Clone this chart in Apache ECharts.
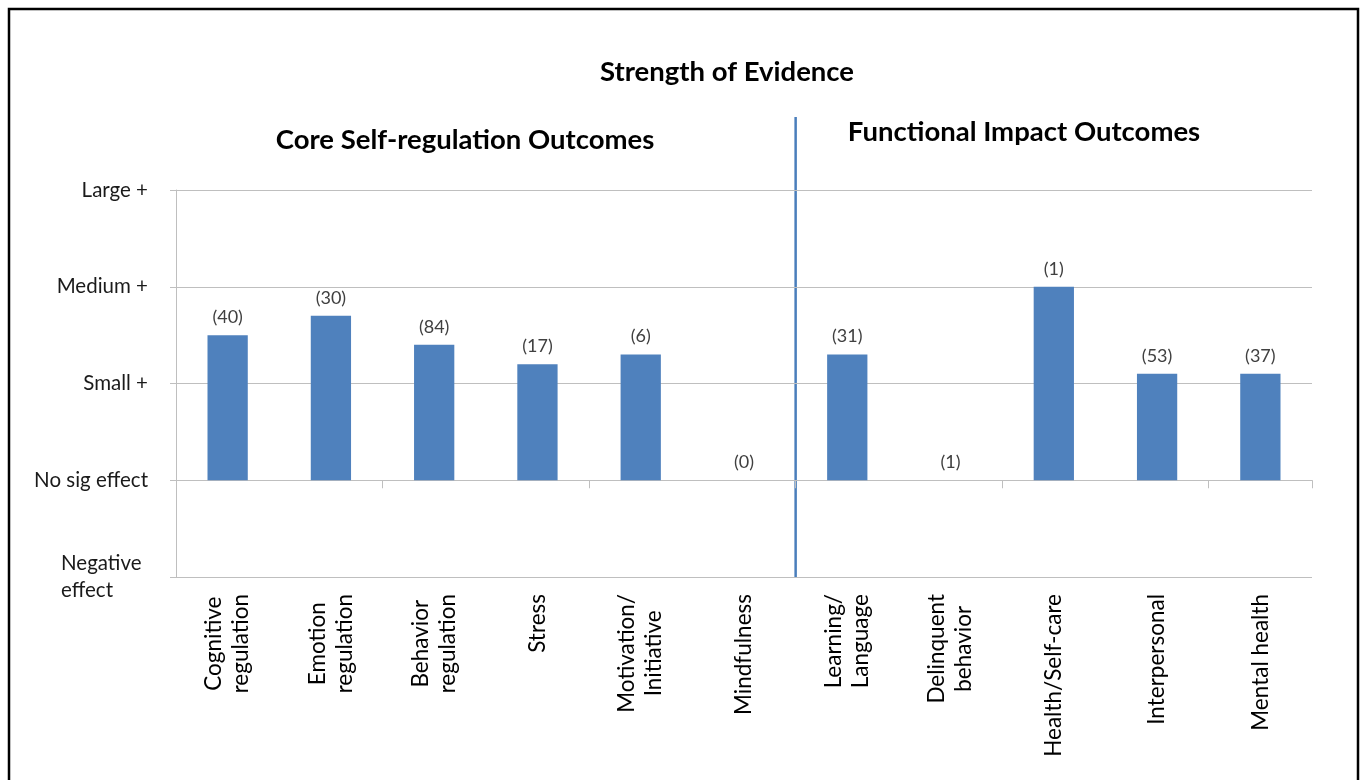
<!DOCTYPE html>
<html>
<head>
<meta charset="utf-8">
<title>Strength of Evidence</title>
<script src="https://cdn.jsdelivr.net/npm/echarts@6/dist/echarts.min.js"></script>
<style>
  html, body { margin: 0; padding: 0; background: #fff; }
  #chart { width: 1366px; height: 780px; }
</style>
</head>
<body>
<div id="chart"></div>
<script>
// outcome categories (left 6 = core self-regulation, right 5 = functional impact)
var categories = [
  "Cognitive\nregulation", "Emotion\nregulation", "Behavior\nregulation", "Stress",
  "Motivation/\nInitiative", "Mindfulness", "Learning/\nLanguage", "Delinquent\nbehavior",
  "Health/Self-care", "Interpersonal", "Mental health"
];
// strength of evidence, -1 = negative, 0 = no sig, 1 = small, 2 = medium, 3 = large
var strength = [1.5, 1.7, 1.4, 1.2, 1.3, 0, 1.3, 0, 2.0, 1.1, 1.1];
// number of studies shown above each bar
var studyCounts = [40, 30, 84, 17, 6, 0, 31, 1, 1, 53, 37];
// y axis tick labels from -1 to 3
var levelLabels = ["Negative effect", "No sig effect", "Small +", "Medium +", "Large +"];

var FONT = "Lato, 'Open Sans', sans-serif";
var gridColor = "#bfbfbf";
var barColor = "#4f81bd";

var chart = echarts.init(document.getElementById("chart"), null, { renderer: "canvas" });

var option = {
  animation: false,
  backgroundColor: "#fff",
  grid: { left: 176, right: 54, top: 190, bottom: 203, containLabel: false },
  xAxis: [
    {
      type: "category",
      data: categories,
      position: "bottom",
      axisLine: { onZero: true, lineStyle: { color: gridColor, width: 1 } },
      axisTick: { show: true, length: 8, lineStyle: { color: gridColor } },
      axisLabel: { show: false },
      splitLine: { show: false }
    },
    {
      type: "category",
      data: categories,
      position: "bottom",
      axisLine: { show: false, onZero: false },
      axisTick: { show: false },
      splitLine: { show: false },
      axisLabel: {
        show: true,
        rotate: 90,
        margin: 17,
        interval: 0,
        fontFamily: FONT,
        fontSize: 22.5,
        color: "#000",
        formatter: function (v) {
          return v.split("\n").map(function (s) { return "{c|" + s + "}"; }).join("\n");
        },
        rich: {
          c: { align: "center", fontFamily: FONT, fontSize: 22.5, color: "#000", lineHeight: 27 }
        }
      }
    }
  ],
  yAxis: {
    type: "value",
    min: -1,
    max: 3,
    interval: 1,
    axisLine: { show: true, lineStyle: { color: gridColor } },
    axisTick: { show: true, length: 6, lineStyle: { color: gridColor } },
    splitLine: { show: true, lineStyle: { color: gridColor, width: 1 } },
    axisLabel: {
      margin: 28,
      fontFamily: FONT,
      fontSize: 20.5,
      color: "#1a1a1a",
      formatter: function (v) {
        var lab = levelLabels[Math.round(v) + 1];
        if (v === -1) {
          return lab.split(" ").map(function (s) { return "{n|" + s + "}"; }).join("\n");
        }
        return lab;
      },
      rich: {
        n: { width: 87, align: "left", fontFamily: FONT, fontSize: 20.5, color: "#1a1a1a", lineHeight: 27 }
      }
    }
  },
  series: [
    {
      type: "bar",
      xAxisIndex: 0,
      data: strength,
      barWidth: "39%",
      itemStyle: { color: barColor },
      label: {
        show: true,
        position: "top",
        distance: 9,
        fontFamily: FONT,
        fontSize: 18,
        color: "#404040",
        formatter: function (p) { return "(" + studyCounts[p.dataIndex] + ")"; }
      }
    }
  ],
  graphic: [
    {
      id: "frame",
      type: "rect",
      shape: { x: 9, y: 9, width: 1349, height: 800 },
      style: { fill: "none", stroke: "#000", lineWidth: 2.5 },
      silent: true
    },
    {
      id: "mainTitle",
      type: "text",
      x: 727, y: 72,
      style: {
        text: "Strength of Evidence", align: "center", verticalAlign: "middle",
        font: "bold 27.5px " + FONT, fill: "#000"
      }
    },
    {
      id: "leftTitle",
      type: "text",
      x: 465, y: 140,
      style: {
        text: "Core Self-regulation Outcomes", align: "center", verticalAlign: "middle",
        font: "bold 27.5px " + FONT, fill: "#000"
      }
    },
    {
      id: "rightTitle",
      type: "text",
      x: 1024, y: 132,
      style: {
        text: "Functional Impact Outcomes", align: "center", verticalAlign: "middle",
        font: "bold 27.5px " + FONT, fill: "#000"
      }
    }
  ]
};

chart.setOption(option);

// divider between the two outcome groups, placed at the category boundary
var xa = chart.convertToPixel({ xAxisIndex: 0 }, categories[5]);
var xb = chart.convertToPixel({ xAxisIndex: 0 }, categories[6]);
var yBottom = chart.convertToPixel({ yAxisIndex: 0 }, -1);
var yTop = chart.convertToPixel({ yAxisIndex: 0 }, 3) - 73;
chart.setOption({
  graphic: [
    {
      id: "divider",
      type: "line",
      shape: { x1: (xa + xb) / 2, y1: yTop, x2: (xa + xb) / 2, y2: yBottom },
      style: { stroke: "#4a7ebb", lineWidth: 2.5 },
      silent: true
    }
  ]
});
</script>
</body>
</html>
